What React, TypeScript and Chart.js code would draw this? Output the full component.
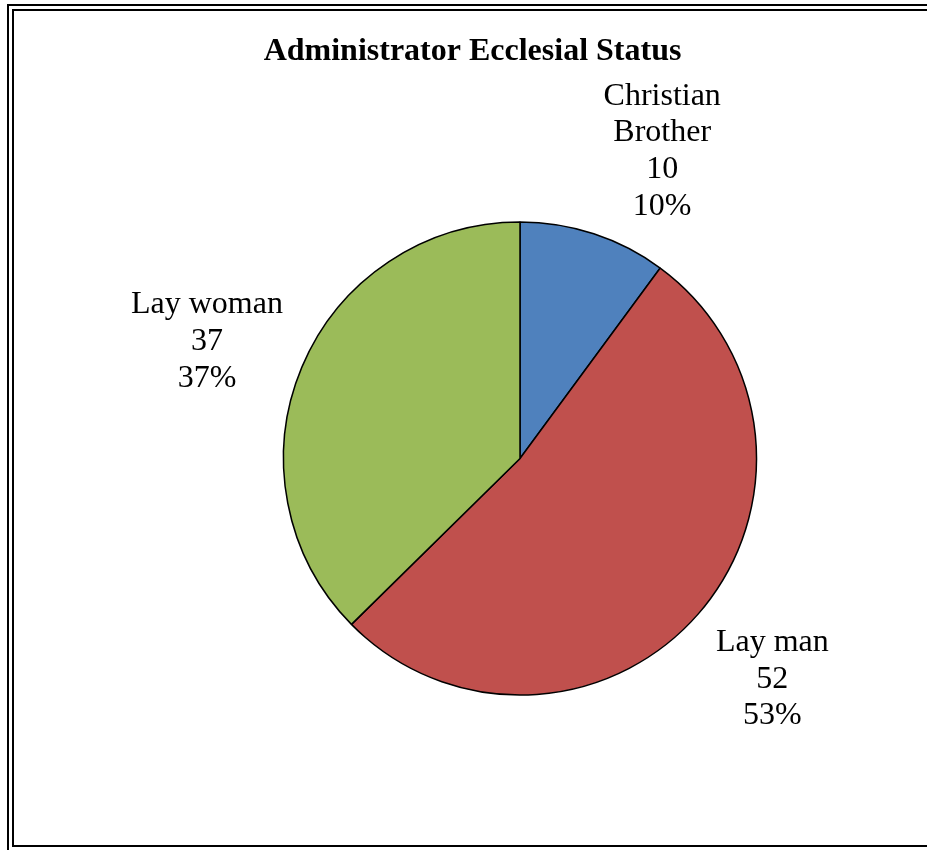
import React, { useEffect, useRef } from "react";
import { Chart, registerables } from "chart.js";

Chart.register(...registerables);

const TITLE = "Administrator Ecclesial Status";
const categories = ["Christian Brother", "Lay man", "Lay woman"];
const counts = [10, 52, 37];
const sliceColors = ["#4F81BD", "#C0504D", "#9BBB59"];

const FONT_FAMILY = "'Liberation Serif', 'Times New Roman', serif";

function wrapText(ctx: CanvasRenderingContext2D, text: string, maxWidth: number): string[] {
  const words = text.split(" ");
  const lines: string[] = [];
  let cur = "";
  for (const w of words) {
    const test = cur ? cur + " " + w : w;
    if (cur && ctx.measureText(test).width > maxWidth) {
      lines.push(cur);
      cur = w;
    } else {
      cur = test;
    }
  }
  if (cur) lines.push(cur);
  return lines;
}

const pieLabelsPlugin = {
  id: "pieLabels",
  afterDraw(chart: any, _args: any, opts: any) {
    const ctx: CanvasRenderingContext2D = chart.ctx;
    const meta = chart.getDatasetMeta(0);
    const data = chart.data.datasets[0].data as number[];
    const total = data.reduce((a, b) => a + b, 0);
    ctx.save();
    ctx.fillStyle = "#000";
    ctx.textAlign = "center";
    ctx.textBaseline = "alphabetic";
    ctx.font = `bold 32px ${FONT_FAMILY}`;
    ctx.fillText(opts.title, opts.titleX, opts.titleY);
    ctx.font = `32px ${FONT_FAMILY}`;
    meta.data.forEach((arc: any, i: number) => {
      const { x, y, startAngle, endAngle, outerRadius } = arc.getProps(
        ["x", "y", "startAngle", "endAngle", "outerRadius"],
        true
      );
      const mid = (startAngle + endAngle) / 2;
      const d = outerRadius * opts.distance;
      const off = opts.offsets[i] || [0, 0];
      const cx = x + Math.cos(mid) * d + off[0];
      const cy = y + Math.sin(mid) * d + off[1];
      const lines = wrapText(ctx, String(chart.data.labels[i]), opts.maxWidth);
      lines.push(String(data[i]));
      lines.push(Math.round((data[i] / total) * 100) + "%");
      const lh = opts.lineHeight;
      const first = cy - ((lines.length - 1) / 2) * lh + opts.capHalf;
      lines.forEach((t: string, k: number) => ctx.fillText(t, cx, first + k * lh));
    });
    ctx.restore();
  },
};

export default function App() {
  const canvasRef = useRef<HTMLCanvasElement | null>(null);

  useEffect(() => {
    if (!canvasRef.current) return;
    const chart = new Chart(canvasRef.current, {
      type: "pie",
      data: {
        labels: categories,
        datasets: [
          {
            data: counts,
            backgroundColor: sliceColors,
            borderColor: "#000000",
            borderWidth: 1.5,
          },
        ],
      },
      options: {
        responsive: false,
        animation: false,
        radius: 236.5,
        layout: { padding: { left: 113, right: 0, top: 67, bottom: 0 } },
        plugins: {
          legend: { display: false },
          tooltip: { enabled: false },
          title: { display: false },
          pieLabels: {
            title: TITLE,
            titleX: 472.5,
            titleY: 60,
            distance: 1.412,
            offsets: [
              [38, 8],
              [0, 0],
              [-5, 10],
            ],
            maxWidth: 160,
            lineHeight: 36.8,
            capHalf: 10.5,
          },
        } as any,
      } as any,
      plugins: [pieLabelsPlugin],
    });
    return () => chart.destroy();
  }, []);

  return (
    <div
      style={{
        position: "fixed",
        left: 0,
        top: 0,
        width: 927,
        height: 850,
        background: "#ffffff",
        overflow: "hidden",
      }}
    >
      <div
        style={{
          position: "absolute",
          left: 7,
          top: 4,
          width: 940,
          height: 870,
          border: "2px solid #000",
          boxSizing: "border-box",
        }}
      />
      <div
        style={{
          position: "absolute",
          left: 12,
          top: 9,
          width: 930,
          height: 838,
          border: "2px solid #000",
          boxSizing: "border-box",
        }}
      />
      <canvas
        ref={canvasRef}
        width={927}
        height={850}
        style={{ position: "absolute", left: 0, top: 0, width: 927, height: 850 }}
      />
    </div>
  );
}
